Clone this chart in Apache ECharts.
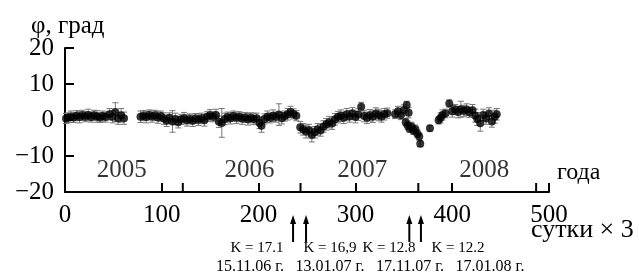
<!DOCTYPE html>
<html>
<head>
<meta charset="utf-8">
<script src="https://cdn.jsdelivr.net/npm/echarts@6/dist/echarts.min.js"></script>
<style>
html,body{margin:0;padding:0;background:#fff;}
#chart{width:639px;height:275px;}
</style>
</head>
<body>
<div id="chart"></div>
<script>
// ---- data (x in "сутки × 3", phi in degrees) ----
const phiX = [1,3,6,9,12,15,18,21,24,27,30,33,36,39,42,
  46,49,52,55,58,61,
  78,81,84,87,90,93,96,99,102,105,108,111,114,117,120,123,126,129,132,135,138,141,144,147,150,153,156,159,162,165,168,171,174,177,180,
  183,186,189,192,195,198,201,203,206,209,212,215,218,221,224,227,230,233,236,239,
  243,246,249,252,255,258,261,264,267,270,273,276,279,282,
  285,288,291,294,297,300,303,306,309,312,315,318,321,324,327,330,333,
  341,344,347,350,353,355,
  352,354,356,358,360,362,364,366,367,
  377,386,
  388,390,393,397,400,403,406,409,412,415,418,421,424,426,429,432,435,438,441,444,446];
const phiY = [0.4,0.6,0.9,0.7,1.2,0.8,1.3,0.9,1.4,0.8,1.3,1.0,0.7,1.1,0.8,
  1.6,0.9,2.2,0.4,1.3,0.5,
  0.9,1.2,0.8,1.4,1.0,1.3,0.7,1.1,0.4,-0.2,0.6,-0.4,0.3,-0.6,0.2,0.5,-0.1,0.3,-0.2,0.4,0.1,0.5,-0.1,1.0,1.3,0.9,1.4,-0.5,-0.8,0.3,0.8,0.5,1.1,0.6,0.9,
  0.4,0.7,0.2,0.6,0.3,0.5,-0.8,-1.6,0.3,0.9,0.6,1.2,0.8,1.5,0.5,1.1,1.6,2.2,1.7,1.2,
  -2.0,-2.6,-3.2,-2.8,-4.2,-3.4,-2.6,-2.9,-1.8,-1.2,-0.6,-1.0,0.2,0.8,
  1.2,0.6,1.6,1.0,1.9,0.8,1.5,3.7,1.1,0.6,1.3,0.9,1.8,1.4,1.0,1.6,1.9,
  1.6,2.4,1.3,2.8,4.2,2.0,
  -0.6,-1.5,-2.4,-1.8,-3.0,-2.6,-3.8,-4.6,-6.6,
  -2.3,-0.1,
  0.6,1.4,1.8,4.6,2.4,2.9,2.2,3.0,2.5,2.9,2.1,2.7,1.2,0.3,-0.9,1.4,0.4,1.8,-0.4,0.9,1.6];
const phiErr = [1.4,1.4,1.6,1.4,1.4,1.6,1.4,1.4,1.6,1.4,1.4,1.6,1.4,1.4,1.4,
  1.6,1.7,2.6,1.6,1.9,1.7,
  1.6,1.4,1.6,1.4,1.6,1.4,1.6,1.4,1.6,1.6,1.4,3.0,1.6,1.6,1.4,1.6,1.6,1.4,1.6,1.4,1.6,1.4,1.6,1.4,1.6,1.4,1.6,1.6,4.0,1.6,1.4,1.6,1.4,1.6,1.4,
  1.6,1.4,1.6,1.4,1.6,1.4,1.6,1.8,1.4,1.6,1.4,1.6,1.4,3.0,1.6,1.4,1.6,1.6,1.4,1.4,
  1.6,1.6,1.8,1.6,1.9,1.6,1.6,1.6,1.6,1.6,1.6,1.6,1.6,1.6,
  1.6,1.6,1.6,1.6,1.6,1.6,1.6,1.2,1.6,1.6,1.6,1.6,1.6,1.6,1.6,1.6,1.4,
  1.2,1.4,1.2,1.4,1.0,1.4,
  1.0,1.2,1.0,1.2,1.0,1.2,1.0,1.0,0.8,
  0.8,1.0,
  1.4,1.4,1.2,1.0,1.6,1.4,1.6,2.2,1.6,1.6,1.4,1.6,1.8,1.8,2.2,1.6,1.6,1.6,1.6,1.8,1.6];
const yearTicks = [121.7, 243.3, 365, 486.7];
const yearLabels = ['2005', '2006', '2007', '2008'];
const yearLabelX = [58.5, 190.7, 307, 433];
const arrowX = [235.6, 249, 355.7, 367.7];
const kLabels = ['K = 17.1', 'K = 16,9', 'K = 12.8', 'K = 12.2'];
const dateLabels = ['15.11.06 г.', '13.01.07 г.', '17.11.07 г.', '17.01.08 г.'];
const xTickValues = [0, 100, 200, 300, 400, 500];
const yTickValues = [-20, -10, 0, 10, 20];

const FONT = 'Liberation Serif';
const chart = echarts.init(document.getElementById('chart'), null, {renderer: 'canvas'});

const errData = phiX.map((x, i) => [x, phiY[i], phiErr[i]]);
const ptData = phiX.map((x, i) => [x, phiY[i]]);

const kCenters = [257, 330, 389, 458];
const dateCenters = [250, 330, 410, 490];
const graphics = [];
kLabels.forEach((t, i) => graphics.push({type: 'text', x: kCenters[i], y: 248, style: {text: t, fontFamily: FONT, fontSize: 15, fill: '#000', align: 'center', verticalAlign: 'middle'}}));
dateLabels.forEach((t, i) => graphics.push({type: 'text', x: dateCenters[i], y: 267, style: {text: t, fontFamily: FONT, fontSize: 16, fill: '#000', align: 'center', verticalAlign: 'middle'}}));
graphics.push({type: 'text', x: 557, y: 173, style: {text: 'года', fontFamily: FONT, fontSize: 24, fill: '#000', align: 'left', verticalAlign: 'middle'}});
graphics.push({type: 'text', x: 531, y: 230, style: {text: 'сутки × 3', fontFamily: FONT, fontSize: 26, fill: '#000', align: 'left', verticalAlign: 'middle'}});

chart.setOption({
  animation: false,
  backgroundColor: '#fff',
  title: {text: 'φ, град', left: 26, top: 9, textStyle: {fontFamily: FONT, fontSize: 25, fontWeight: 'normal', color: '#000'}},
  grid: {left: 65, right: 90, top: 48, bottom: 83, containLabel: false},
  xAxis: {
    type: 'value', min: 0, max: 500, interval: 100,
    axisLine: {show: true, onZero: false, lineStyle: {color: '#000', width: 2}},
    axisTick: {show: true, inside: true, length: 9, lineStyle: {color: '#000', width: 2}},
    axisLabel: {fontFamily: FONT, fontSize: 25, color: '#000', margin: 11,
      formatter: v => xTickValues.includes(v) ? String(v) : ''},
    splitLine: {show: false}
  },
  yAxis: {
    type: 'value', min: -20, max: 20, interval: 10,
    axisLine: {show: true, onZero: false, lineStyle: {color: '#000', width: 2}},
    axisTick: {show: true, inside: true, length: 9, lineStyle: {color: '#000', width: 2}},
    axisLabel: {fontFamily: FONT, fontSize: 25, color: '#000', margin: 11,
      formatter: v => yTickValues.includes(v) ? (v < 0 ? '\u2212' + Math.abs(v) : String(v)) : ''},
    splitLine: {show: false}
  },
  graphic: graphics,
  series: [
    {
      type: 'custom', name: 'err', data: errData, z: 2,
      renderItem: function (params, api) {
        const x = api.value(0), y = api.value(1), e = api.value(2);
        const top = api.coord([x, y + e]);
        const bot = api.coord([x, y - e]);
        const st = {stroke: '#777', lineWidth: 1};
        return {type: 'group', children: [
          {type: 'line', shape: {x1: top[0], y1: top[1], x2: bot[0], y2: bot[1]}, style: st},
          {type: 'line', shape: {x1: top[0] - 3, y1: top[1], x2: top[0] + 3, y2: top[1]}, style: st},
          {type: 'line', shape: {x1: bot[0] - 3, y1: bot[1], x2: bot[0] + 3, y2: bot[1]}, style: st}
        ]};
      }
    },
    {
      type: 'scatter', name: 'phi', data: ptData, z: 3,
      symbol: 'circle', symbolSize: 8,
      itemStyle: {color: '#000'}
    },
    {
      type: 'scatter', name: 'years', z: 3,
      data: yearLabelX.map((x, i) => ({value: [x, -13.9], name: yearLabels[i]})),
      symbolSize: 0,
      label: {show: true, position: 'inside', formatter: p => p.name, fontFamily: FONT, fontSize: 25, color: '#000'}
    },
    {
      type: 'custom', name: 'yearTicks', z: 4, data: yearTicks.map(v => [v]),
      renderItem: function (params, api) {
        const p = api.coord([api.value(0), -20]);
        return {type: 'line', shape: {x1: p[0], y1: p[1], x2: p[0], y2: p[1] - 9}, style: {stroke: '#000', lineWidth: 2}};
      }
    },
    {
      type: 'custom', name: 'arrows', z: 4, clip: false, data: arrowX.map(v => [v]),
      renderItem: function (params, api) {
        const p = api.coord([api.value(0), -20]);
        const tip = p[1] + 23, tail = p[1] + 50;
        return {type: 'group', children: [
          {type: 'line', shape: {x1: p[0], y1: tip + 6, x2: p[0], y2: tail}, style: {stroke: '#000', lineWidth: 2}},
          {type: 'polygon', shape: {points: [[p[0] - 3, tip + 9], [p[0] + 3, tip + 9], [p[0], tip]]}, style: {fill: '#000'}}
        ]};
      }
    }
  ]
});
</script>
</body>
</html>
